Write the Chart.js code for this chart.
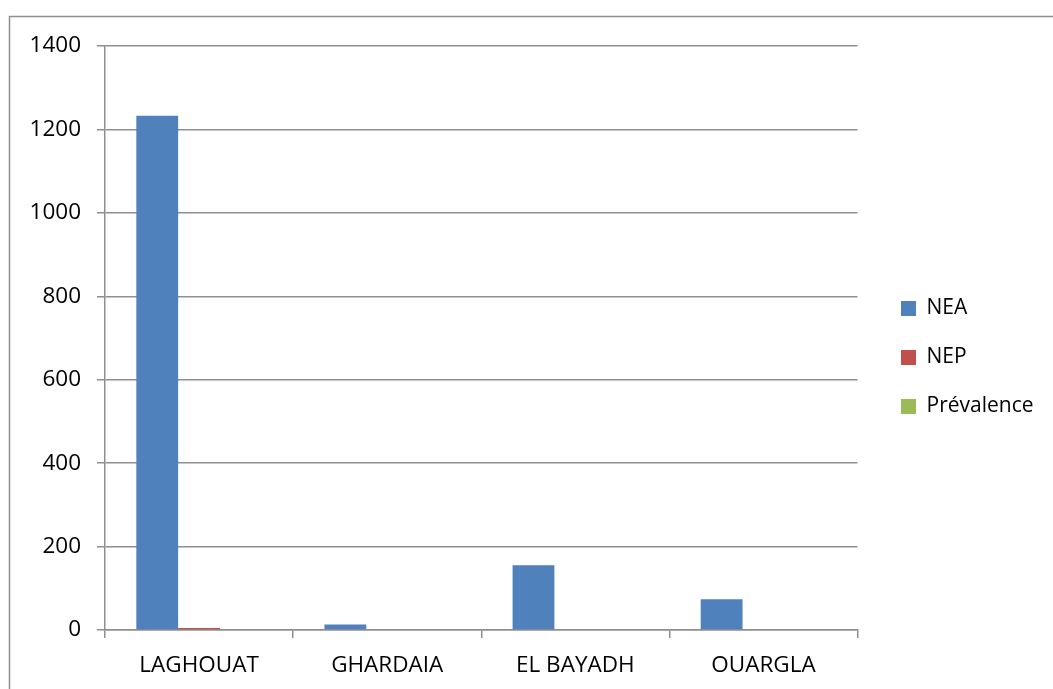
<!DOCTYPE html>
<html>
<head>
<meta charset="utf-8">
<script src="https://cdn.jsdelivr.net/npm/chart.js@4"></script>
<style>
  html, body { margin: 0; padding: 0; background: #fff; }
  #wrap { width: 1053px; height: 689px; }
</style>
</head>
<body>
<div id="wrap"><canvas id="prevChart"></canvas></div>
<script>
const regions = ['LAGHOUAT', 'GHARDAIA', 'EL BAYADH', 'OUARGLA'];
const neaValues = [1233, 13, 155, 74];
const nepValues = [5, 0, 0, 0];
const prevalenceValues = [0, 0, 0, 0];
const yTicks = [0, 200, 400, 600, 800, 1000, 1200, 1400];

const gridGray = '#8f8f8f';

// outer frame like the office chart border
const frame = {
  id: 'frame',
  beforeDraw(chart) {
    const ctx = chart.ctx;
    ctx.save();
    ctx.strokeStyle = gridGray;
    ctx.lineWidth = 1.5;
    ctx.strokeRect(9.5, 16.5, 1100, 700);
    ctx.restore();
  }
};

// nudge legend a bit to the right and up, like the original
const legendNudge = {
  id: 'legendNudge',
  afterLayout(chart) {
    const lg = chart.legend;
    if (!lg) return;
    const dx = 901 - 28 - lg.left;
    lg.left += dx;
    lg.right += dx;
    lg.top -= 10;
    lg.bottom -= 10;
  }
};

const ctx = document.getElementById('prevChart').getContext('2d');
new Chart(ctx, {
  type: 'bar',
  data: {
    labels: regions,
    datasets: [
      { label: 'NEA', data: neaValues, backgroundColor: '#4f81bd' },
      { label: 'NEP', data: nepValues, backgroundColor: '#c0504d' },
      { label: 'Prévalence', data: prevalenceValues, backgroundColor: '#9bbb59' }
    ]
  },
  options: {
    responsive: true,
    maintainAspectRatio: false,
    animation: false,
    layout: { padding: { left: 0, top: 46, right: 25, bottom: 0 } },
    datasets: { bar: { categoryPercentage: 0.667, barPercentage: 1 } },
    scales: {
      x: {
        grid: { offset: true, drawOnChartArea: false, color: gridGray, lineWidth: 1.5, tickLength: 8 },
        border: { color: gridGray, width: 1.5 },
        ticks: { color: '#000', padding: 14, font: { family: 'Open Sans', size: 22.5 } },
        afterFit(scale) { scale.height = 59; }
      },
      y: {
        min: 0,
        max: 1400,
        afterBuildTicks(scale) { scale.ticks = yTicks.map(v => ({ value: v })); },
        grid: { color: gridGray, lineWidth: 1.5, tickLength: 8 },
        border: { color: gridGray, width: 1.5 },
        ticks: {
          color: '#000',
          padding: 16,
          font: { family: 'Open Sans', size: 22.5 },
          callback: (v) => String(v)
        },
        afterFit(scale) { scale.width = 105; }
      }
    },
    plugins: {
      legend: {
        position: 'right',
        labels: {
          boxWidth: 15,
          boxHeight: 15,
          padding: 28,
          color: '#000',
          font: { family: 'Open Sans', size: 21 }
        }
      },
      tooltip: { enabled: false }
    }
  },
  plugins: [frame, legendNudge]
});
</script>
</body>
</html>
